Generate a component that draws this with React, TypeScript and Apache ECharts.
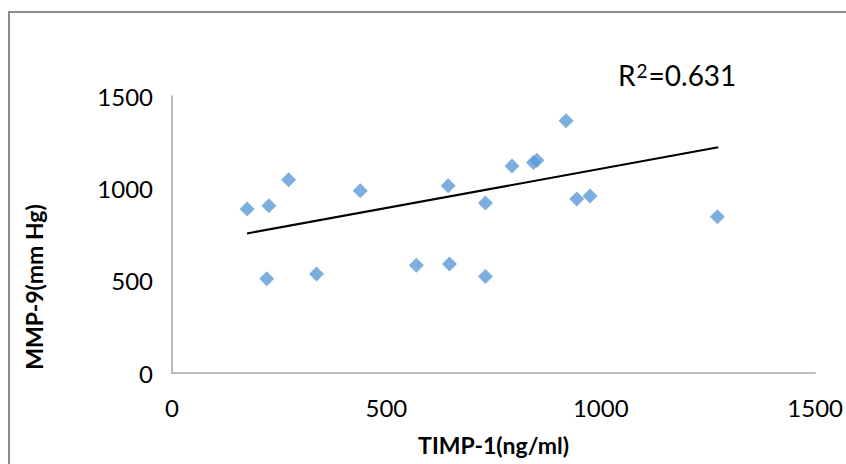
import React, { useEffect, useRef } from "react";
import * as echarts from "echarts";

const timp1 = [175, 226, 272, 439, 644, 731, 221, 337, 570, 647, 731, 793, 843, 851, 919, 944, 975, 1272];
const mmp9 = [888, 906, 1046, 987, 1014, 920, 511, 536, 583, 590, 523, 1121, 1140, 1152, 1366, 942, 958, 846];
const trendX = [175, 1274];
const trendY = [756, 1222];
const xTicks = [0, 500, 1000, 1500];
const yTicks = [0, 500, 1000, 1500];
const r2Label = "R²=0.631";
const xTitle = "TIMP-1(ng/ml)";
const yTitle = "MMP-9(mm Hg)";

const FONT = "Lato, 'Open Sans', sans-serif";

export default function App() {
  const ref = useRef<HTMLDivElement>(null);
  useEffect(() => {
    if (!ref.current) return;
    const chart = echarts.init(ref.current, null, { renderer: "svg" });
    const axisCommon = {
      type: "value" as const,
      min: xTicks[0],
      max: xTicks[xTicks.length - 1],
      interval: xTicks[1] - xTicks[0],
      axisLine: { show: true, lineStyle: { color: "#a6a6a6", width: 1.5 } },
      axisTick: { show: false },
      splitLine: { show: false },
    };
    chart.setOption({
      animation: false,
      backgroundColor: "#ffffff",
      grid: { left: 172, top: 96, right: 29, bottom: 91, containLabel: false },
      xAxis: {
        ...axisCommon,
        axisLabel: {
          color: "#000",
          fontFamily: FONT,
          fontSize: 24,
          margin: 22,
          formatter: (v: number) => String(v),
        },
        name: xTitle,
        nameLocation: "middle",
        nameGap: 60,
        nameTextStyle: { color: "#000", fontFamily: FONT, fontSize: 23, fontWeight: "bold" },
      },
      yAxis: {
        ...axisCommon,
        min: yTicks[0],
        max: yTicks[yTicks.length - 1],
        interval: yTicks[1] - yTicks[0],
        axisLabel: {
          color: "#000",
          fontFamily: FONT,
          fontSize: 24,
          margin: 19,
          formatter: (v: number) => String(v),
        },
      },
      graphic: [
        {
          type: "rect",
          shape: { x: 9, y: 12, width: 900, height: 500 },
          style: { fill: "none", stroke: "#8c8c8c", lineWidth: 2 },
          silent: true,
        },
        {
          type: "text",
          x: 34,
          y: 287,
          rotation: Math.PI / 2,
          style: {
            text: yTitle,
            fill: "#000",
            font: `bold 23px ${FONT}`,
            align: "center",
            verticalAlign: "middle",
          },
        },
        {
          type: "text",
          x: 618,
          y: 75,
          style: {
            text: "R{sup|2}=0.631",
            fill: "#000",
            font: `28px ${FONT}`,
            align: "left",
            verticalAlign: "middle",
            rich: {
              sup: { fontSize: 19, fontFamily: FONT, verticalAlign: "top", padding: [0, 1, 8, 1], fill: "#000" },
            },
          },
        },
      ],
      series: [
        {
          type: "scatter",
          data: timp1.map((x, i) => [x, mmp9[i]]),
          symbol: "diamond",
          symbolSize: 15,
          itemStyle: { color: "#5b9bd5" },
          z: 2,
        },
        {
          type: "line",
          data: trendX.map((x, i) => [x, trendY[i]]),
          showSymbol: false,
          symbol: "none",
          lineStyle: { color: "#000", width: 2 },
          z: 3,
        },
      ],
    });
    return () => chart.dispose();
  }, []);
  return (
    <div
      ref={ref}
      title={r2Label}
      style={{ position: "fixed", left: 0, top: 0, width: 846, height: 464, background: "#fff" }}
    />
  );
}
